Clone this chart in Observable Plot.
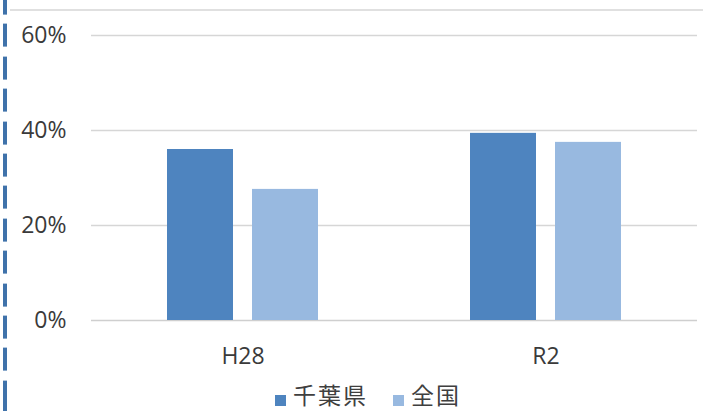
<!DOCTYPE html>
<html>
<head>
<meta charset="utf-8">
<script src="https://cdn.jsdelivr.net/npm/d3@7"></script>
<script src="https://cdn.jsdelivr.net/npm/@observablehq/plot@0.6"></script>
<style>
  html, body { margin: 0; padding: 0; background: #fff; }
  #wrap {
    position: relative; width: 703px; height: 411px; overflow: hidden; background: #fff;
    font-family: "Open Sans", "Noto Sans CJK JP", sans-serif; color: #3a3a3a;
  }
  #chart { position: absolute; left: 0; top: 0; }
  .rule-top { position: absolute; left: 10px; right: 0; top: 9px; height: 2px; background: #e0e0e0; }
  .rule-left {
    position: absolute; left: 3px; top: 0; width: 4px; height: 411px;
    background-image: repeating-linear-gradient(to bottom, #3f72aa 0px, #3f72aa 23px, transparent 23px, transparent 32.4px);
    background-position: 0 -8.4px;
  }
  #legend {
    position: absolute; left: 275px; top: 383px; display: flex; align-items: center;
    font-family: "Noto Sans CJK JP", sans-serif; font-size: 23px; line-height: 23px; color: #3f3f3f;
  }
  #legend .sw { width: 11px; height: 11px; margin-top: 12px; margin-right: 7px; }
  #legend .item { display: flex; align-items: center; margin-right: 25px; }
  #legend .lbl { display: inline-block; height: 23px; line-height: 23px; letter-spacing: 2px; }
</style>
</head>
<body>
<div id="wrap">
  <div class="rule-top"></div>
  <div class="rule-left"></div>
  <div id="chart"></div>
  <div id="legend"></div>
</div>
<script>
// Survey periods and the two series compared in each
const periods = ["H28", "R2"];
const series = ["千葉県", "全国"];
const chibaValues = [0.36, 0.394];
const nationalValues = [0.276, 0.375];
const yTicks = [0, 0.2, 0.4, 0.6];
const seriesColors = ["#4e84bf", "#98b9e0"];

// Long-format table for Plot
const rows = periods.flatMap((p, i) => [
  {period: p, series: series[0], value: chibaValues[i]},
  {period: p, series: series[1], value: nationalValues[i]}
]);

const chart = Plot.plot({
  width: 703,
  height: 383,
  marginLeft: 90,
  marginRight: 6,
  marginTop: 35,
  marginBottom: 63,
  style: {fontFamily: '"Open Sans", sans-serif', fontSize: "23px", color: "#3a3a3a", background: "transparent"},
  fx: {domain: periods, padding: 0, label: null, axis: null},
  x: {domain: series, paddingInner: 0.221, paddingOuter: 0.875, axis: null},
  y: {domain: [0, 0.6], axis: null, label: null},
  color: {domain: series, range: seriesColors},
  marks: [
    Plot.ruleY(yTicks.filter(d => d > 0), {stroke: "#d6d6d6", strokeWidth: 1.5}),
    Plot.ruleY([0], {stroke: "#cfcfcf", strokeWidth: 1.5}),
    Plot.barY(rows, {fx: "period", x: "series", y: "value", fill: "series"}),
    Plot.axisY(yTicks, {anchor: "left", tickSize: 0, tickPadding: 25, tickFormat: d3.format(".0%"), fill: "#3a3a3a", fontSize: 23, label: null}),
    Plot.axisFx({anchor: "bottom", tickSize: 0, tickPadding: 27, fill: "#3a3a3a", fontSize: 23, label: null})
  ]
});
document.getElementById("chart").appendChild(chart);

// Legend below the chart
const legend = document.getElementById("legend");
series.forEach((s, i) => {
  const item = document.createElement("div");
  item.className = "item";
  const sw = document.createElement("span");
  sw.className = "sw";
  sw.style.background = seriesColors[i];
  const lbl = document.createElement("span");
  lbl.className = "lbl";
  lbl.textContent = s;
  item.appendChild(sw);
  item.appendChild(lbl);
  legend.appendChild(item);
});
</script>
</body>
</html>
